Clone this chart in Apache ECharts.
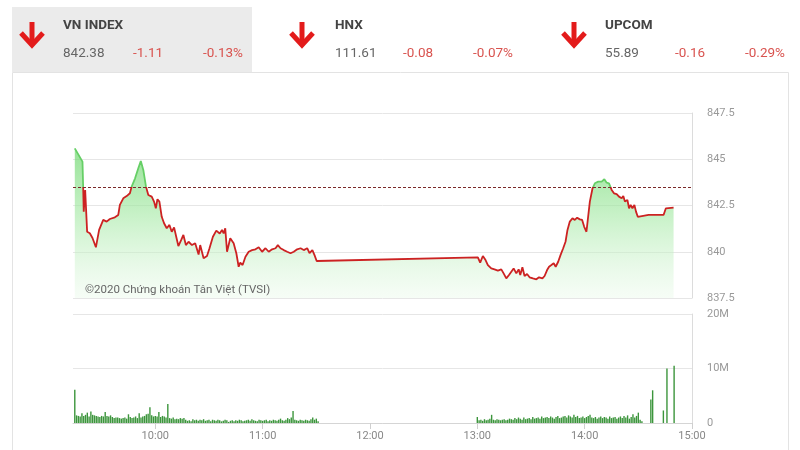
<!DOCTYPE html>
<html>
<head>
<meta charset="utf-8">
<script src="https://cdn.jsdelivr.net/npm/echarts@6/dist/echarts.min.js"></script>
<style>
html,body{margin:0;padding:0;background:#fff;}
#c{width:800px;height:450px;}
</style>
</head>
<body>
<div id="c"></div>
<script>
// ---- data (times in minutes of the day) ----
const refClose = 843.49;
const indexNames = ['VN INDEX', 'HNX', 'UPCOM'];
const indexValues = ['842.38', '111.61', '55.89'];
const indexChanges = ['-1.11', '-0.08', '-0.16'];
const indexPercents = ['-0.13%', '-0.07%', '-0.29%'];
const timeTicks = [600, 660, 720, 780, 840, 900];

const priceTimes = [
555.0,559.3,559.7,560.0,560.8,561.9,563.4,564.9,566.8,568.6,570.9,572.8,574.6,577.4,579.3,580.2,582.1,584.0,585.8,586.8,
588.7,590.5,591.9,593.3,594.8,596.1,598.0,599.3,600.3,601.2,602.3,603.6,604.9,606.4,607.9,609.2,610.5,611.7,612.9,614.5,
615.7,617.1,618.6,620.5,622.3,624.2,625.1,627.0,628.9,630.3,632.2,634.1,636.0,637.3,638.2,639.1,640.1,641.9,643.8,645.3,
646.6,647.5,648.8,650.4,652.2,654.1,656.0,657.8,659.7,661.6,663.4,665.3,667.2,668.5,670.0,671.8,673.7,675.6,677.4,679.3,
681.2,683.0,684.9,686.2,687.8,689.0,690.2,
780.3,781.6,783.1,784.6,785.9,787.8,789.6,791.5,793.4,794.7,796.2,797.7,799.0,800.3,801.8,803.1,804.0,805.2,806.4,807.8,
809.2,811.1,813.0,814.5,816.4,817.6,819.0,820.1,821.4,822.7,823.8,825.2,826.5,828.0,829.3,830.4,831.7,833.2,834.5,835.8,
837.3,838.6,839.7,841.0,842.9,844.4,845.7,847.6,849.5,851.0,852.3,853.6,855.1,856.4,857.9,859.2,860.7,861.6,862.5,863.9,
864.8,865.7,866.7,867.8,868.7,869.7,875.7,884.1,885.4,889.7
];
const priceValues = [
845.59,844.87,843.43,842.17,843.34,841.08,841.00,840.74,840.24,841.18,841.72,841.63,841.77,841.86,841.99,842.53,842.89,843.01,843.16,843.52,
843.97,844.51,844.91,844.42,843.52,843.07,842.98,842.71,842.35,842.84,842.71,841.89,841.54,841.27,841.45,841.08,841.32,840.81,840.31,840.64,
840.91,840.36,840.54,840.36,840.46,839.85,840.36,839.65,839.77,840.19,840.81,841.14,840.99,841.18,840.99,841.27,840.00,840.73,840.46,839.92,
839.19,839.41,839.28,839.73,840.00,840.09,840.13,840.24,840.00,840.19,840.00,840.13,840.19,840.36,840.19,840.09,840.00,839.92,840.00,840.13,
840.19,840.09,840.19,839.92,840.09,839.82,839.50,
839.70,839.41,839.77,839.55,839.28,839.10,839.05,838.98,839.05,838.83,838.56,838.74,838.92,839.10,838.83,839.05,838.74,839.16,838.69,838.80,
838.62,838.56,838.51,838.62,838.56,838.69,839.01,839.19,839.28,839.38,839.19,839.46,839.82,840.19,840.54,841.18,841.63,841.81,841.72,841.84,
841.75,841.72,841.36,841.08,842.71,843.43,843.70,843.79,843.79,843.92,843.73,843.70,843.34,843.16,843.12,842.98,842.89,843.01,842.71,842.80,
842.35,842.53,842.35,842.53,842.17,841.89,841.99,841.99,842.35,842.38
];

const volTimes = [
555,556,557,558,559,560,561,562,563,564,565,566,567,568,569,570,571,572,573,574,
575,576,577,578,579,580,581,582,583,584,585,586,587,588,589,590,591,592,593,594,
595,596,597,598,599,600,601,602,603,604,605,606,607,608,609,610,611,612,613,614,
615,616,617,618,619,620,621,622,623,624,625,626,627,628,629,630,631,632,633,634,
635,636,637,638,639,640,641,642,643,644,645,646,647,648,649,650,651,652,653,654,
655,656,657,658,659,660,661,662,663,664,665,666,667,668,669,670,671,672,673,674,
675,676,677,678,679,680,681,682,683,684,685,686,687,688,689,690,691,
780,781,782,783,784,785,786,787,788,789,790,791,792,793,794,795,796,797,798,799,
800,801,802,803,804,805,806,807,808,809,810,811,812,813,814,815,816,817,818,819,
820,821,822,823,824,825,826,827,828,829,830,831,832,833,834,835,836,837,838,839,
840,841,842,843,844,845,846,847,848,849,850,851,852,853,854,855,856,857,858,859,
860,861,862,863,864,865,866,867,868,869,870,871,872,
877,878,884,886,890
];
const volValues = [ // millions
6.1,1.4,1.3,1.2,1.8,1.3,1.5,1.9,1.2,2.1,1.5,1.4,1.3,1.2,1.1,1.3,1.2,2.0,1.3,1.2,
1.4,1.1,0.9,1.0,1.0,0.9,0.8,0.9,1.0,0.8,1.6,1.1,0.9,1.0,1.2,0.9,1.8,1.0,1.2,1.3,
1.6,1.7,2.9,1.4,1.2,1.3,1.2,2.0,1.1,1.3,1.2,1.0,3.5,0.9,0.8,1.0,0.7,0.8,0.7,0.9,
0.8,0.9,0.6,0.4,0.5,0.3,0.7,0.5,0.6,0.4,0.6,0.5,0.7,0.4,0.5,0.6,0.3,0.6,0.5,0.4,
0.6,0.5,0.3,0.4,0.6,0.5,0.2,0.4,0.5,0.3,0.5,0.4,0.6,0.5,0.3,0.4,0.5,0.6,0.4,0.7,
0.5,0.4,0.3,0.6,0.5,0.4,0.5,0.6,0.3,0.5,0.4,0.6,0.5,0.4,0.6,0.8,0.5,0.4,0.6,0.9,
0.7,1.0,2.2,0.6,0.5,0.4,0.6,0.5,0.4,0.6,0.5,0.4,0.7,1.0,0.6,0.8,0.3,
1.1,0.5,0.6,0.4,0.7,0.5,0.6,0.8,1.5,0.6,0.5,0.7,0.6,0.5,0.6,0.7,0.5,0.6,0.8,0.7,
0.6,0.9,0.7,1.0,0.8,0.6,1.0,0.7,0.8,0.9,0.7,1.1,0.8,0.9,1.0,0.8,1.2,0.9,1.0,1.1,
0.9,1.2,1.0,0.8,1.1,1.3,0.9,1.0,1.2,1.3,1.0,1.4,1.2,1.0,1.5,1.1,1.3,0.9,1.0,1.2,
0.9,1.1,1.3,1.5,1.0,0.9,1.1,0.8,1.0,1.2,0.9,1.1,1.0,0.8,1.2,0.9,1.0,1.1,0.8,1.0,
1.2,0.9,1.3,1.0,1.4,0.8,1.1,1.6,1.0,1.3,1.9,0.6,0.3,
4.3,6.0,2.3,10.0,10.5
];

// ---- build ----
const priceData = priceTimes.map((t, i) => [t, priceValues[i]]);
const volData = volTimes.map((t, i) => [t, volValues[i]]);
const fmtTime = v => {
  const h = Math.floor(v / 60), m = Math.round(v % 60);
  return (h < 10 ? '0' + h : h) + ':' + (m < 10 ? '0' + m : m);
};

const red = '#d9534f';
const headerX = [[20, 63, 133, 203], [290, 335, 403, 473], [562, 605, 675, 745]];
const graphics = [
  { type: 'rect', shape: { x: 12, y: 7, width: 240, height: 65 }, style: { fill: '#ebebeb' }, z: 0 },
  { type: 'rect', shape: { x: 12.5, y: 72.5, width: 776, height: 390 }, style: { fill: 'none', stroke: '#e3e3e3', lineWidth: 1 }, z: 0 },
  { type: 'text', left: 85, top: 284, style: { text: '©2020 Chứng khoán Tân Việt (TVSI)', fill: '#666', font: '11.5px Roboto' }, z: 10 }
];
indexNames.forEach((name, i) => {
  const [ax, tx, cx, px] = headerX[i];
  graphics.push(
    { type: 'polyline', shape: { points: [[ax + 12, 22], [ax + 12, 44]] }, style: { stroke: '#e31b1b', lineWidth: 5, fill: 'none' }, z: 5 },
    { type: 'polyline', shape: { points: [[ax + 1, 33], [ax + 12, 45], [ax + 23, 33]] }, style: { stroke: '#e31b1b', lineWidth: 5, fill: 'none', lineJoin: 'miter' }, z: 5 },
    { type: 'text', x: tx, y: 26, style: { text: name, fill: '#444', font: 'bold 13.5px Roboto', textVerticalAlign: 'middle' }, z: 5 },
    { type: 'text', x: tx, y: 54, style: { text: indexValues[i], fill: '#666', font: '13.5px Roboto', textVerticalAlign: 'middle' }, z: 5 },
    { type: 'text', x: cx, y: 54, style: { text: indexChanges[i], fill: red, font: '13.5px Roboto', textVerticalAlign: 'middle' }, z: 5 },
    { type: 'text', x: px, y: 54, style: { text: indexPercents[i], fill: red, font: '13.5px Roboto', textVerticalAlign: 'middle' }, z: 5 }
  );
});

const chart = echarts.init(document.getElementById('c'));
chart.setOption({
  animation: false,
  backgroundColor: '#fff',
  textStyle: { fontFamily: 'Roboto' },
  graphic: graphics,
  grid: [
    { left: 73, top: 113, width: 619, height: 185 },
    { left: 73, top: 314, width: 619, height: 109 }
  ],
  visualMap: {
    show: false, type: 'piecewise', seriesIndex: 0, dimension: 1,
    pieces: [
      { gte: 837.5, lt: refClose, color: '#cc2222' },
      { gte: refClose, lte: 847.5, color: '#66cf66' }
    ]
  },
  xAxis: [
    { gridIndex: 0, type: 'value', min: 554, max: 900, show: false, splitLine: { show: false } },
    {
      gridIndex: 1, type: 'value', min: 554, max: 900,
      axisLine: { show: true, lineStyle: { color: '#d5d5d5' } },
      axisTick: { show: true, customValues: timeTicks, length: 6, lineStyle: { color: '#cfcfcf' } },
      axisLabel: { customValues: timeTicks, formatter: fmtTime, color: '#888', fontSize: 11, margin: 8 },
      splitLine: { show: false }
    }
  ],
  yAxis: [
    {
      gridIndex: 0, type: 'value', position: 'right', min: 837.5, max: 847.5, interval: 2.5,
      axisLine: { show: true, lineStyle: { color: '#dcdcdc' } },
      axisTick: { show: false },
      axisLabel: { color: '#999', fontSize: 11, margin: 15 },
      splitLine: { lineStyle: { color: '#e6e6e6' } }
    },
    {
      gridIndex: 1, type: 'value', position: 'right', min: 0, max: 20, interval: 10,
      axisLine: { show: true, lineStyle: { color: '#dcdcdc' } },
      axisTick: { show: false },
      axisLabel: { color: '#999', fontSize: 11, margin: 15, formatter: v => v === 0 ? '0' : v + 'M' },
      splitLine: { lineStyle: { color: '#e6e6e6' } }
    }
  ],
  series: [
    {
      type: 'line', xAxisIndex: 0, yAxisIndex: 0, data: priceData,
      showSymbol: false, symbol: 'none',
      lineStyle: { width: 1.8 },
      areaStyle: {
        color: new echarts.graphic.LinearGradient(0, 0, 0, 1, [
          { offset: 0, color: 'rgba(105,214,105,1)' },
          { offset: 0.45, color: 'rgba(168,234,168,0.9)' },
          { offset: 1, color: 'rgba(232,249,232,0.55)' }
        ])
      },
      markLine: {
        silent: true, symbol: 'none',
        label: { show: false },
        lineStyle: { color: '#7b2a2a', type: [3, 2], width: 1 },
        data: [{ yAxis: refClose }]
      },
      z: 3
    },
    {
      type: 'bar', xAxisIndex: 1, yAxisIndex: 1, data: volData,
      barWidth: 1.4,
      itemStyle: { color: '#3c953c' }
    }
  ]
});
</script>
</body>
</html>
